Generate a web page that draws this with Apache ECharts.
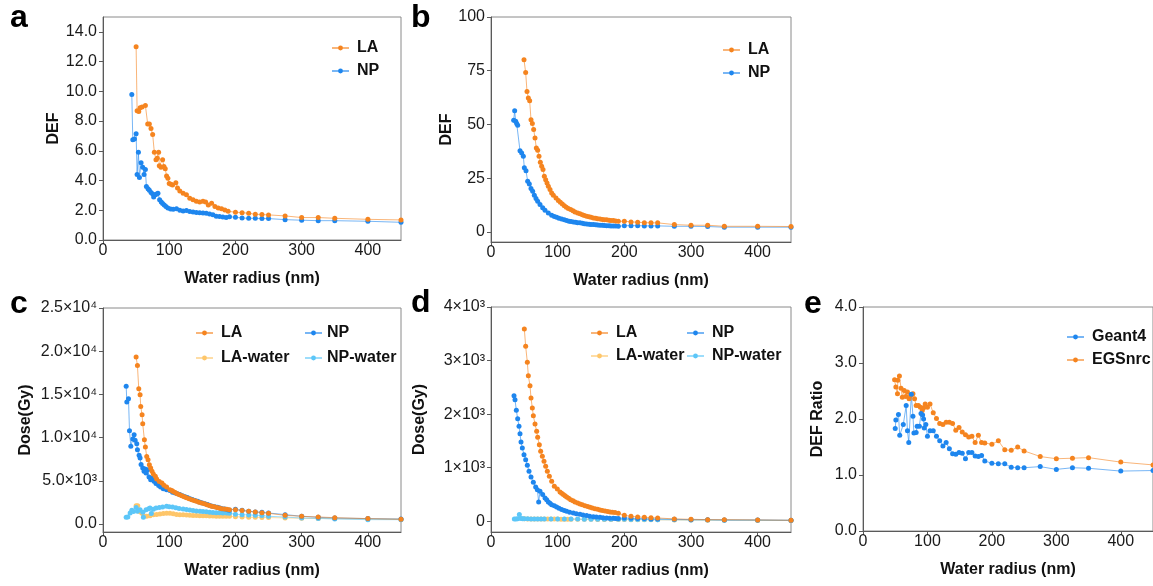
<!DOCTYPE html>
<html>
<head>
<meta charset="utf-8">
<script src="https://cdn.jsdelivr.net/npm/echarts@6/dist/echarts.min.js"></script>
<style>
html,body{margin:0;padding:0;background:#fff;}
#chart{width:1153px;height:586px;}
</style>
</head>
<body>
<div id="chart"></div>
<script>
// ---------- DATA ----------
const xTicks = [0, 100, 200, 300, 400];

// Panel a: DEF
const aTicks = [0, 2, 4, 6, 8, 10, 12, 14];
const aLA_x = [50,51.5,54,56,59,64,67.5,70,72.5,75,77.5,80,82,84,85,87.5,90,92,94,96,98,100,102.5,105,110,112.5,116,121,126,131,136,141,146,151,155,159,164,169,174,179,184,189,200,210,220,230,240,250,275,300,325,350,400,450];
const aLA_y = [13.0,8.7,8.65,8.9,8.95,9.05,7.8,7.8,7.5,7.1,5.9,5.4,5.5,5.9,5.0,4.9,5.4,4.95,4.8,4.3,4.15,3.8,3.75,3.7,3.85,3.5,3.3,3.15,3.05,2.8,2.7,2.6,2.55,2.6,2.55,2.35,2.47,2.25,2.15,2.1,2.02,1.93,1.87,1.84,1.80,1.73,1.71,1.69,1.62,1.51,1.51,1.46,1.39,1.35];
const aNP_x = [43.5,45,47.5,50,51.5,53.5,55,57.5,60,62,64,65.5,68,70,72.5,75,76.5,79,81,83,85.5,88,90,92.5,95,98,102,106,111,116,121,126,131,136,141,146,151,156,161,166,171,176,181,186,191,200,210,220,230,240,250,275,300,325,350,400,450];
const aNP_y = [9.78,6.74,6.8,7.15,4.4,5.9,4.2,5.2,4.9,4.4,4.75,3.6,3.45,3.35,3.2,3.1,2.9,3.05,3.1,3.15,2.7,2.55,2.45,2.35,2.25,2.15,2.08,2.07,2.1,2.0,1.95,1.98,1.92,1.88,1.85,1.84,1.82,1.8,1.75,1.7,1.6,1.58,1.55,1.52,1.57,1.53,1.48,1.46,1.46,1.44,1.44,1.37,1.33,1.30,1.30,1.26,1.19];

// Panel b: DEF
const bTicks = [0, 25, 50, 75, 100];
const bLA_x = [49.5,52,54,56,58,60,62,64,66,68,70,72,74,76,78,80,82,84,86,88.5,91,93.5,97.5,101,104,107,110,113,116,119.5,123,126,130,133.5,137,140,143.5,147,150,153.5,157,160,163.5,167,170,173.5,177,180,183.5,187,191,200,210,220,230,240,250,275,300,325,350,400,450];
const bLA_y = [80.1,74.2,65.3,62.3,61,52.2,50.4,47.6,43.7,39,38,35.2,32.4,30.5,29,25.9,24.3,22.8,21.2,19.7,18.1,17,15.8,14.6,13.8,13.0,12.2,11.5,10.9,10.4,9.8,9.3,8.8,8.4,8.0,7.6,7.3,7.0,6.8,6.5,6.3,6.15,6.0,5.8,5.7,5.6,5.45,5.35,5.3,5.1,4.9,5.0,4.65,4.5,4.3,4.2,4.2,3.4,3.1,3.1,2.6,2.6,2.5];
const bNP_x = [34,35.5,37,38.5,40,43.5,46,48.5,50,52.5,55,57.5,60,62.5,65,67.5,70,73.5,77.5,81,86,91,95,98.5,102,106,110,113.5,117,120,123.5,127,130,133.5,137,140,143.5,147,150,153.5,157,160,163.5,167,170,173.5,177,180,183.5,187,191,200,210,220,230,240,250,275,300,325,350,400,450];
const bNP_y = [51.9,56.4,51.5,50.5,49.6,37.8,36.7,35.2,29.8,28.5,23.6,22.3,20.2,18.9,17.1,15.5,14.3,12.7,11.2,10.1,8.8,7.8,7.2,6.8,6.4,6.0,5.6,5.3,5.0,4.8,4.65,4.45,4.3,4.2,4.0,3.85,3.7,3.6,3.5,3.4,3.3,3.2,3.1,3.05,3.0,2.9,2.85,2.8,2.8,2.75,2.6,2.9,2.9,2.9,2.8,2.8,2.8,2.6,2.6,2.5,2.2,2.2,2.2];

// Panel c: Dose (Gy)
const cTicks = [0, 5000, 10000, 15000, 20000, 25000];
const cTickLabels = ['0.0', '5.0×10³', '1.0×10⁴', '1.5×10⁴', '2.0×10⁴', '2.5×10⁴'];
const cLA_x = [50,52,54,56,57,59,60,62.5,64,66,68,70,72,74,76,79,81,85,89,92,96,101,104,106,109,112,115.5,119,122.5,126,130,134,137.5,141,145,149,153,157,160.5,164,168,172,175.5,179,183,187,191,200,210,220,230,240,250,275,300,325,350,400,450];
const cLA_y = [19320,18350,15650,14960,13600,12650,11600,9750,8900,7820,7440,6860,6480,6090,5790,5510,5210,4930,4740,4470,4280,3970,3860,3770,3640,3510,3390,3270,3150,3040,2920,2810,2710,2620,2520,2430,2330,2230,2130,2040,1980,1920,1840,1770,1730,1700,1660,1640,1560,1460,1390,1310,1230,1000,890,810,730,620,540];
const cNP_x = [35,36,38.5,40,42,45,47,48.5,51,52,54.5,56,57.5,60,62,63.5,65,67.5,69.5,72,75,77,80,84,87,91,96,101,105,109,112.5,116,120,124,127.5,131.5,135,139,143,146.5,150,154,158,161.5,165,169,173,176.5,180,184,188,191,200,210,220,230,240,250,275,300,325,350,400,450];
const cNP_y = [15930,14120,14500,10800,8990,9840,10340,9680,9300,8600,7950,7640,6870,6480,6100,6370,5900,6290,5440,5130,5320,4940,4670,4440,4280,4090,3970,3860,3680,3580,3510,3400,3280,3160,3050,2930,2820,2720,2620,2520,2430,2330,2240,2140,2040,1990,1930,1850,1775,1720,1660,1600,1700,1580,1470,1390,1350,1270,1080,890,770,690,620,580];
const cLAw_x = [50,52.5,55,58.5,61,66,71,76,81,86,91,96,101,106,111,116,121,126,131,136,141,146,151,156,161,166,171,176,181,186,191,200,210,220,230,240,250,275,300,325,350,400,450];
const cLAw_y = [2120,2100,1450,1270,960,880,960,1075,1100,1150,1200,1250,1240,1180,1100,1075,1070,1050,1020,990,970,960,950,940,920,910,900,890,885,880,880,840,800,780,770,760,740,700,660,640,620,580,540];
const cNPw_x = [35,37.5,41,43.5,46,50,52,56,60,61,65,69,71,73,76,80,85,90,96,100,105,110,115,121,126,131,136,141,146.5,151,156,161,166,171,176,181,187,191,200,210,220,230,240,250,275,300,325,350,400,450];
const cNPw_y = [766,800,1270,1580,1450,1900,1460,1660,1350,770,1660,1770,1850,1200,1700,1850,1900,1950,2040,2000,1950,1880,1800,1735,1680,1620,1560,1500,1460,1430,1400,1370,1340,1310,1290,1270,1270,1250,1120,1075,1050,1010,970,890,800,690,640,580,500,500];

// Panel d: Dose (Gy)
const dTicks = [0, 1000, 2000, 3000, 4000];
const dTickLabels = ['0', '1×10³', '2×10³', '3×10³', '4×10³'];
const dLA_x = [50,52,54.5,56,58.5,60,62,63.5,66,68.5,70,72.5,74.5,77,79.5,82,84.5,87.5,91,95,99.5,103.5,106,108.5,111,113.5,116.5,119.5,123,126,130,133.5,137,141,145,148.5,152,156,160,163.5,167,171,175,178.5,182,186,191,200,210,220,230,240,250,275,300,325,350,400,450];
const dLA_y = [3590,3266,2967,2718,2532,2301,2115,1972,1816,1679,1567,1431,1306,1213,1120,1026,933,840,746,653,603,547,522,498,476,454,428,404,382,361,342,323,307,292,276,261,248,236,223,211,202,193,183,174,168,162,149,112,93,81,75,68,62,44,37,31,31,25,19];
const dNP_x = [34.5,36,38,40,42,43.5,45,47,49.5,52,54.5,57,60,63.5,67,69.5,71.5,73.5,77.5,81,83.5,86,88.5,91,95,98.5,102,106,110,113.5,118,123.5,128,133.5,138,143.5,148,153.5,158,163.5,168,173.5,178,183.5,187,191,200,210,220,230,240,250,275,300,325,350,400,450];
const dNP_y = [2345,2270,2071,1916,1773,1636,1480,1368,1244,1151,1045,933,827,728,641,591,361,560,498,435,400,361,335,311,289,267,242,218,202,187,171,156,143,131,118,106,96,87,81,75,68,62,59,56,53,50,62,56,50,50,44,44,37,31,31,25,25,19];
const dLAw_x = [50,55,60,65,70,75,80,85,90,95,100,105,110,115,120,130,140,150,160,170,180,191,200,210,220,230,240,250,275,300,325,350,400,450];
const dLAw_y = [48,45,44,44,43,43,42,42,42,41,41,40,40,40,39,38,37,36,35,34,33,33,32,31,30,29,28,27,25,22,20,19,17,15];
const dNPw_x = [35,37.5,40,42.5,45,47.5,50,55,60,65,70,75,80,90,100,110,120,130,140,150,160,170,180,191,200,210,220,230,240,250,275,300,325,350,400,450];
const dNPw_y = [42,44,46,125,50,46,47,46,45,45,44,44,44,43,43,42,42,41,40,40,39,38,38,37,36,35,34,33,32,31,28,25,23,21,19,17];

// Panel e: DEF ratio
const eTicks = [0, 1, 2, 3, 4];
const eG4_x = [50,51,55,57,62.5,67,69,71,75,77.5,79,82.5,84,87.5,90,92.5,94,95,97.5,100,104,109,114,119,124,129,134,139,144,149,154,159,164,169,174,179,184,189,200,210,220,230,240,250,275,300,325,350,400,450];
const eG4_y = [1.83,1.98,2.08,1.71,1.90,2.24,1.79,1.58,2.44,2.05,1.75,1.76,1.87,1.87,2.10,2.07,2.0,1.84,1.90,1.69,1.79,1.79,1.69,1.61,1.52,1.58,1.47,1.38,1.37,1.40,1.39,1.29,1.40,1.40,1.34,1.33,1.35,1.25,1.21,1.20,1.20,1.14,1.13,1.13,1.15,1.10,1.13,1.12,1.07,1.08];
const eEGS_x = [49,51,53.5,54,56.5,59,61,64,66.5,69,71.5,74,77.5,80,82.5,86,89,92,94,96.5,100,104,109,114,119,124,129,134,139,144,149,154,159,164,169,174,179,184,189,200,210,220,230,240,250,275,300,325,350,400,450];
const eEGS_y = [2.70,2.57,2.45,2.69,2.77,2.55,2.39,2.51,2.40,2.48,2.36,2.42,2.45,2.36,2.24,2.24,2.21,2.15,2.20,2.27,2.21,2.27,2.11,2.01,1.92,1.90,1.94,1.94,1.92,1.80,1.85,1.77,1.72,1.68,1.69,1.58,1.71,1.58,1.57,1.55,1.61,1.45,1.44,1.50,1.43,1.33,1.29,1.30,1.31,1.23,1.18];

// ---------- STYLE ----------
const FONT = 'Liberation Sans, Arial, sans-serif';
const AXC = '#5a5a5a';
const COL = { LA: '#F5841F', NP: '#1E86EE', 'LA-water': '#FEC66A', 'NP-water': '#5CC6F8', Geant4: '#1E86EE', EGSnrc: '#F5841F' };

const grids = [
  { left: 103, top: 17, width: 298, height: 223 },
  { left: 491, top: 17, width: 300, height: 225 },
  { left: 103, top: 308, width: 298, height: 224 },
  { left: 491, top: 307, width: 300, height: 225 },
  { left: 863, top: 307, width: 299, height: 224 }
].map(g => Object.assign({ show: true, borderColor: '#8a8a8a', borderWidth: 1, backgroundColor: 'transparent' }, g));

function xAxis(gi) {
  return {
    type: 'value', gridIndex: gi, min: 0, max: 450,
    axisLine: { show: true, onZero: false, lineStyle: { color: AXC, width: 1 } },
    axisTick: { show: true, length: 4, customValues: xTicks, lineStyle: { color: AXC } },
    axisLabel: { customValues: xTicks, color: '#1a1a1a', fontSize: 16, fontFamily: FONT, margin: 3 },
    splitLine: { show: false },
    name: 'Water radius (nm)', nameLocation: 'middle', nameGap: 31,
    nameTextStyle: { fontSize: 16, fontWeight: 'bold', color: '#111', fontFamily: FONT }
  };
}
function yAxis(gi, min, max, ticks, fmt, name, gap) {
  return {
    type: 'value', gridIndex: gi, min: min, max: max,
    axisLine: { show: true, onZero: false, lineStyle: { color: AXC, width: 1 } },
    axisTick: { show: true, length: 4, customValues: ticks, lineStyle: { color: AXC } },
    axisLabel: { customValues: ticks, formatter: fmt, color: '#1a1a1a', fontSize: 16, fontFamily: FONT, margin: 6 },
    splitLine: { show: false },
    name: name, nameLocation: 'middle', nameGap: gap,
    nameTextStyle: { fontSize: 16, fontWeight: 'bold', color: '#111', fontFamily: FONT }
  };
}
const fix1 = v => v.toFixed(1);

function zip(xs, ys) { return xs.map((x, i) => [x, ys[i]]); }
function line(name, gi, xs, ys) {
  const c = COL[name];
  return {
    type: 'line', name: name, xAxisIndex: gi, yAxisIndex: gi,
    data: zip(xs, ys), symbol: 'circle', symbolSize: 5, showSymbol: true,
    itemStyle: { color: c }, lineStyle: { color: c, width: 1, opacity: 0.6 },
    emphasis: { disabled: true }, animation: false
  };
}
function legend(names, left, top, gap, pad) {
  return {
    data: names, orient: 'vertical', left: left, top: top, padding: 0,
    itemWidth: 17, itemHeight: 6, itemGap: gap, selectedMode: false,
    textStyle: { fontSize: 16, fontWeight: 'bold', color: '#111', fontFamily: FONT, padding: [0, 0, 0, pad] }
  };
}
function letter(t, x, y) {
  return { type: 'text', left: x, top: y, style: { text: t, font: 'bold 32px ' + FONT, fill: '#000' } };
}

const option = {
  backgroundColor: '#fff',
  animation: false,
  grid: grids,
  xAxis: [0, 1, 2, 3, 4].map(xAxis),
  yAxis: [
    yAxis(0, 0, 15, aTicks, fix1, 'DEF', 41),
    yAxis(1, -4.7, 100, bTicks, v => String(v), 'DEF', 36),
    yAxis(2, -930, 25000, cTicks, v => cTickLabels[cTicks.indexOf(v)], 'Dose(Gy)', 69),
    yAxis(3, -200, 4000, dTicks, v => dTickLabels[dTicks.indexOf(v)], 'Dose(Gy)', 63),
    yAxis(4, 0, 4, eTicks, fix1, 'DEF Ratio', 37)
  ],
  legend: [
    legend(['LA', 'NP'], 331, 40, 7, 3),
    legend(['LA', 'NP'], 722, 42, 7, 3),
    legend(['LA', 'LA-water'], 195, 325, 9, 3),
    legend(['NP', 'NP-water'], 304, 325, 9, 0),
    legend(['LA', 'LA-water'], 590, 325, 7, 3),
    legend(['NP', 'NP-water'], 686, 325, 7, 3),
    legend(['Geant4', 'EGSnrc'], 1066, 329, 7, 3)
  ],
  graphic: [
    letter('a', 10, 2),
    letter('b', 411, 2),
    letter('c', 10, 288),
    letter('d', 411, 287),
    letter('e', 804, 288)
  ],
  series: [
    line('NP', 0, aNP_x, aNP_y),
    line('LA', 0, aLA_x, aLA_y),
    line('NP', 1, bNP_x, bNP_y),
    line('LA', 1, bLA_x, bLA_y),
    line('LA-water', 2, cLAw_x, cLAw_y),
    line('NP-water', 2, cNPw_x, cNPw_y),
    line('NP', 2, cNP_x, cNP_y),
    line('LA', 2, cLA_x, cLA_y),
    line('LA-water', 3, dLAw_x, dLAw_y),
    line('NP-water', 3, dNPw_x, dNPw_y),
    line('NP', 3, dNP_x, dNP_y),
    line('LA', 3, dLA_x, dLA_y),
    line('EGSnrc', 4, eEGS_x, eEGS_y),
    line('Geant4', 4, eG4_x, eG4_y)
  ]
};

const chart = echarts.init(document.getElementById('chart'), null, { renderer: 'canvas' });
chart.setOption(option);
</script>
</body>
</html>
